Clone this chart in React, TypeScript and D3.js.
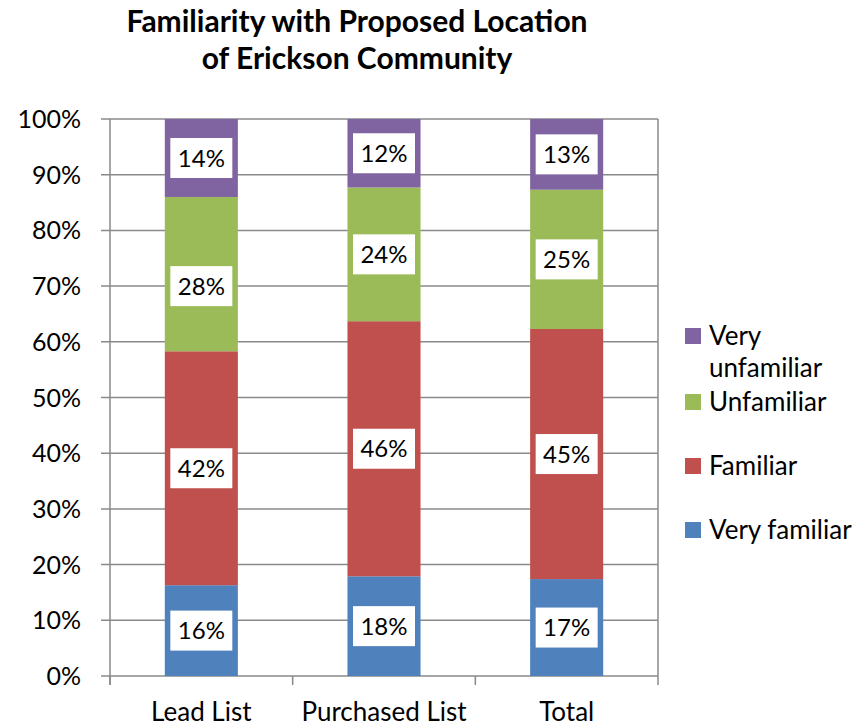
import React from "react";
import * as d3 from "d3";

// categories along the x axis
const categories = ["Lead List", "Purchased List", "Total"];
// series, bottom to top of the stack
const seriesNames = ["Very familiar", "Familiar", "Unfamiliar", "Very unfamiliar"];
const veryFamiliar = [16.3, 17.9, 17.4];
const familiar = [42.0, 45.8, 44.9];
const unfamiliar = [27.7, 24.0, 25.0];
const veryUnfamiliar = [14.0, 12.3, 12.7];
const yTicks = [0, 10, 20, 30, 40, 50, 60, 70, 80, 90, 100];

const colors = ["#4F81BD", "#C0504D", "#9BBB59", "#8064A2"];
const font = "Lato, 'Open Sans', sans-serif";

export default function App() {
  const width = 864;
  const height = 726;
  const plot = { left: 110, right: 658, top: 119, bottom: 676 };

  const x = d3
    .scaleBand<string>()
    .domain(categories)
    .range([plot.left, plot.right])
    .paddingInner(0.6)
    .paddingOuter(0.3);
  const xOuter = d3.scaleBand<string>().domain(categories).range([plot.left, plot.right]);
  const y = d3.scaleLinear().domain([0, 100]).range([plot.bottom, plot.top]);

  const rows = categories.map((c, i) => ({
    cat: c,
    "Very familiar": veryFamiliar[i],
    Familiar: familiar[i],
    Unfamiliar: unfamiliar[i],
    "Very unfamiliar": veryUnfamiliar[i],
  }));
  const stacked = d3.stack<any>().keys(seriesNames)(rows);

  // the 28% label sits a bit lower in the original
  const nudge = (si: number, ci: number) => (si === 2 && ci === 0 ? 12 : 0);

  const legendY = [530, 466, 402, 336];

  return (
    <svg
      width={width}
      height={height}
      style={{ position: "absolute", left: 0, top: 0, background: "#fff" }}
      fontFamily={font}
    >
      <text x={357} y={32} textAnchor="middle" fontWeight="bold" fontSize={30}>
        Familiarity with Proposed Location
      </text>
      <text x={357} y={69} textAnchor="middle" fontWeight="bold" fontSize={30}>
        of Erickson Community
      </text>

      {/* gridlines + y ticks */}
      {yTicks.map((t) => (
        <g key={t}>
          <line x1={plot.left - 9} x2={plot.right} y1={y(t)} y2={y(t)} stroke="#8a8a8a" strokeWidth={1.5} />
          <text x={81} y={y(t)} dy="0.36em" textAnchor="end" fontSize={25}>
            {t}%
          </text>
        </g>
      ))}
      <line x1={plot.left} x2={plot.left} y1={plot.top} y2={plot.bottom + 9} stroke="#8a8a8a" strokeWidth={1.5} />
      <line x1={plot.right} x2={plot.right} y1={plot.top} y2={plot.bottom + 9} stroke="#8a8a8a" strokeWidth={1.5} />
      {categories.map((c) => (
        <g key={c}>
          <line
            x1={xOuter(c)!}
            x2={xOuter(c)!}
            y1={plot.bottom}
            y2={plot.bottom + 9}
            stroke="#8a8a8a"
            strokeWidth={1.5}
          />
          <text x={xOuter(c)! + xOuter.bandwidth() / 2} y={721} textAnchor="middle" fontSize={26}>
            {c}
          </text>
        </g>
      ))}

      {/* bars */}
      {stacked.map((s, si) =>
        s.map((d, ci) => (
          <rect
            key={`${si}-${ci}`}
            x={x(categories[ci])!}
            width={x.bandwidth()}
            y={y(d[1])}
            height={y(d[0]) - y(d[1])}
            fill={colors[si]}
          />
        ))
      )}

      {/* data labels */}
      {stacked.map((s, si) =>
        s.map((d, ci) => {
          const cx = x(categories[ci])! + x.bandwidth() / 2;
          const cy = (y(d[0]) + y(d[1])) / 2 + nudge(si, ci);
          return (
            <g key={`l${si}-${ci}`}>
              <rect x={cx - 31} y={cy - 20} width={62} height={40} fill="#fff" />
              <text x={cx} y={cy} dy="0.36em" textAnchor="middle" fontSize={24}>
                {d3.format(".0f")(d[1] - d[0])}%
              </text>
            </g>
          );
        })
      )}

      {/* legend */}
      {seriesNames.map((n, i) => (
        <g key={n}>
          <rect x={685} y={legendY[i] - 8} width={16} height={16} fill={colors[i]} />
          {n === "Very unfamiliar" ? (
            <text x={709} y={legendY[i]} dy="0.36em" fontSize={26}>
              <tspan x={709}>Very</tspan>
              <tspan x={709} dy={32}>
                unfamiliar
              </tspan>
            </text>
          ) : (
            <text x={709} y={legendY[i]} dy="0.36em" fontSize={26}>
              {n}
            </text>
          )}
        </g>
      ))}
    </svg>
  );
}
